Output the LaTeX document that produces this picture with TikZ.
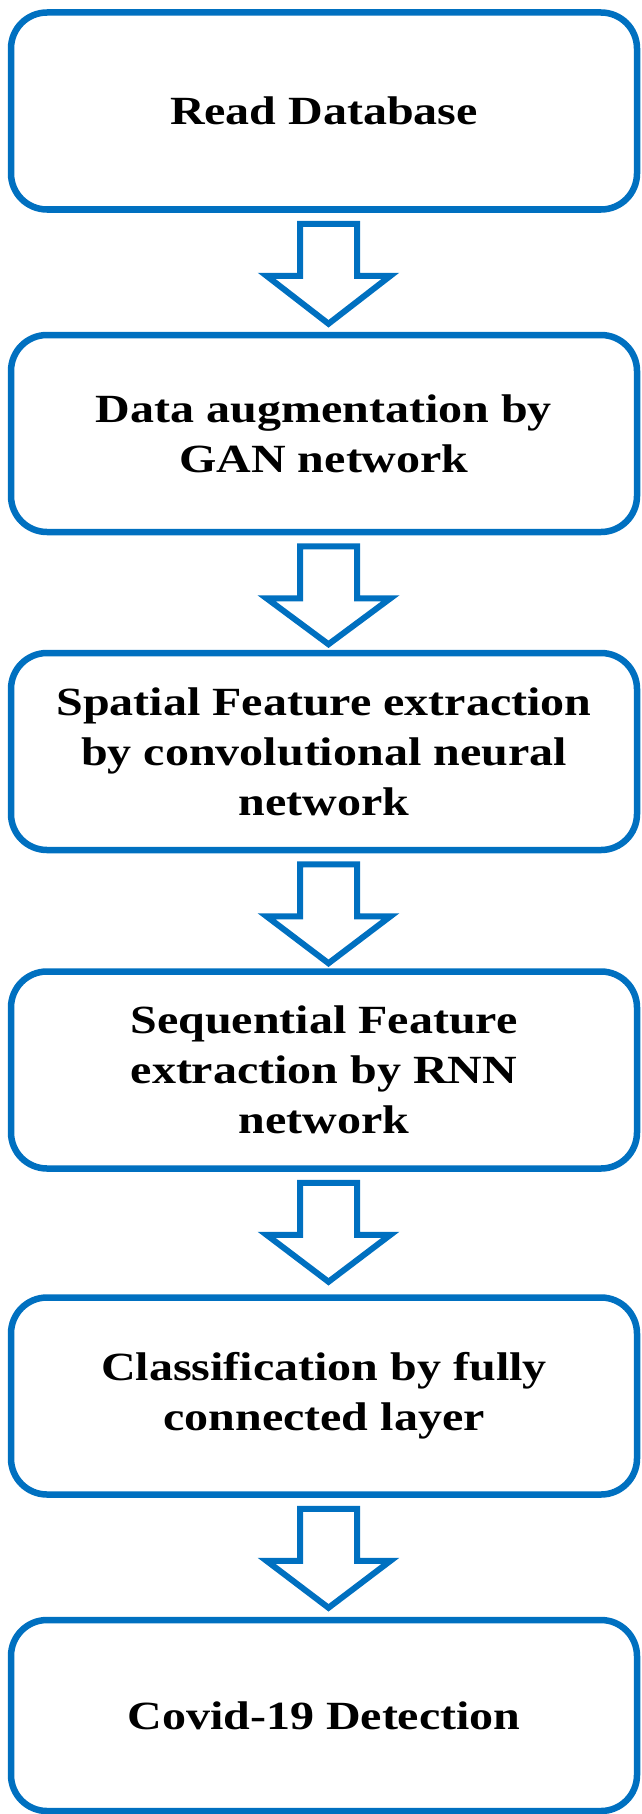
\documentclass[tikz,border=0pt]{standalone}
\usepackage{fontspec}
\setmainfont{Liberation Serif}[FakeStretch=1.2]
\usetikzlibrary{calc}
\definecolor{flowblue}{HTML}{0070C0}

\tikzset{
  stage/.style={draw=flowblue, line width=6.5pt, rounded corners=36pt,
    fill=white, minimum width=626pt, minimum height=197pt, inner sep=0pt,
    align=center, text=black,
    font=\fontsize{40}{50}\selectfont\bfseries},
  blockarrow/.style={draw=flowblue, line width=6pt, line join=miter,
    fill=white},
}

% hollow block arrow hanging below the south side of a stage box
\newcommand\stagearrow[2]{%
  \begin{scope}[shift={($(#1.south)+(4.5,-11)$)}]
    \draw[blockarrow] (-28.5,0) -- (28.5,0) -- (28.5,-52) -- (62,-52)
      -- (0,-#2) -- (-62,-52) -- (-28.5,-52) -- cycle;
  \end{scope}}

\begin{document}
\begin{tikzpicture}[x=1pt,y=1pt]
  \useasboundingbox (0,0) rectangle (641,-1814);

  \node[stage] (read) at (324,-111) {Read Database};
  \node[stage] (gan) at (324,-433.5) {Data augmentation by\\GAN network};
  \node[stage] (cnn) at (324,-751.5)
    {Spatial Feature extraction\\by convolutional neural\\network};
  \node[stage] (rnn) at (324,-1070) {Sequential Feature\\extraction by RNN\\network};
  \node[stage] (fc) at (324,-1396) {Classification by fully\\connected layer};
  \node[stage, minimum height=191pt] (covid) at (324,-1715.5) {Covid-19 Detection};

  \stagearrow{read}{100}
  \stagearrow{gan}{98}
  \stagearrow{cnn}{99}
  \stagearrow{rnn}{99}
  \stagearrow{fc}{99}
\end{tikzpicture}
\end{document}
